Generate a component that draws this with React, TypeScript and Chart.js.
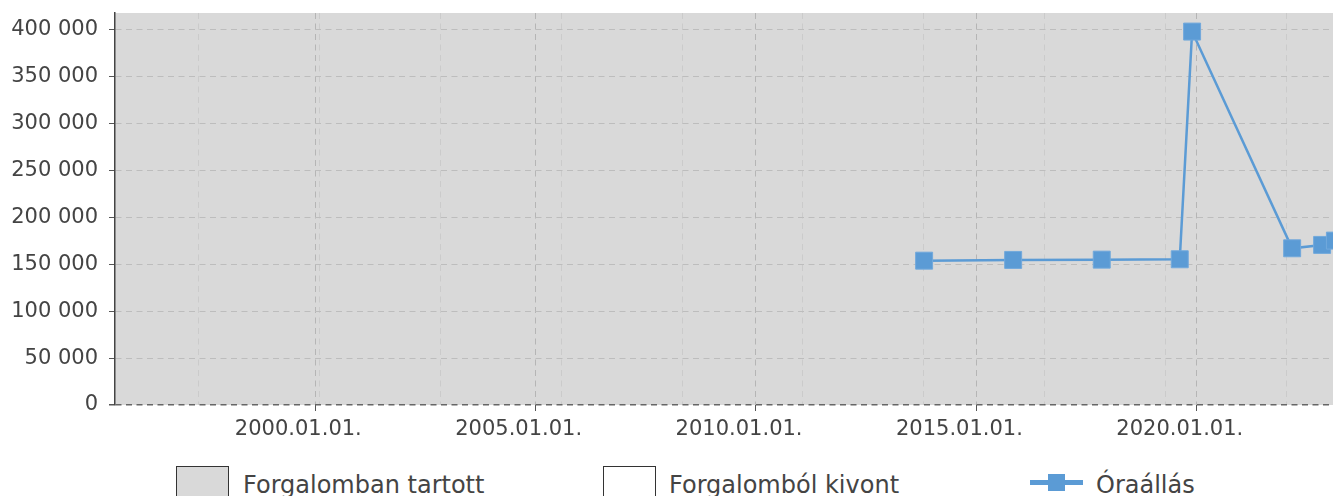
import React, { useEffect, useRef } from 'react';
import { Chart, registerables } from 'chart.js';

Chart.register(...registerables);

// Odometer readings (decimal year, km)
const odometerYears = [2013.82, 2015.84, 2017.85, 2019.62, 2019.9, 2022.17, 2022.85, 2023.14];
const odometerKm = [153900, 154700, 155000, 155400, 398200, 167100, 170700, 175300];

// Period the vehicle was kept in traffic
const inServiceStart = 1995.462;
const inServiceEnd = 2023.097;

const xMin = 1995.462;
const xMax = 2023.097;
const yMax = 418000;

const yearTicks = [2000, 2005, 2010, 2015, 2020];
const minorGridYears = [1997.352, 2000.097, 2002.852, 2005.597, 2008.333, 2011.065, 2013.801, 2016.546, 2019.301, 2022.046];
const kmTicks = [0, 50000, 100000, 150000, 200000, 250000, 300000, 350000, 400000];

const legendLabels = ['Forgalomban tartott', 'Forgalomból kivont', 'Óraállás'];

const FONT = '"DejaVu Sans", sans-serif';
const TEXT = '#444';
const BLUE = '#5b9bd5';
const GRAY_BG = '#d9d9d9';

const fmtThousands = (v: number) => String(Math.round(v)).replace(/\B(?=(\d{3})+(?!\d))/g, ' ');
const isMajor = (v: number) => yearTicks.includes(v);
const NBSP5 = '\u00a0\u00a0\u00a0\u00a0\u00a0';

export default function App() {
  const canvasRef = useRef<HTMLCanvasElement | null>(null);

  useEffect(() => {
    const canvas = canvasRef.current;
    if (!canvas) return;
    const chart = new Chart(canvas, {
      type: 'line',
      data: {
        datasets: [
          {
            label: legendLabels[0],
            data: [
              { x: inServiceStart, y: yMax },
              { x: inServiceEnd, y: yMax },
            ],
            backgroundColor: GRAY_BG,
            borderColor: GRAY_BG,
            borderWidth: 0,
            pointRadius: 0,
            fill: 'origin',
          },
          {
            label: legendLabels[1],
            data: [],
            backgroundColor: '#ffffff',
            borderColor: '#333',
            borderWidth: 0,
            pointRadius: 0,
            fill: 'origin',
          },
          {
            label: legendLabels[2],
            data: odometerYears.map((x, i) => ({ x, y: odometerKm[i] })),
            borderColor: BLUE,
            backgroundColor: BLUE,
            borderWidth: 2.5,
            pointStyle: 'rect',
            pointRadius: 12,
            pointBorderWidth: 1,
            pointBorderColor: '#72a9dc',
            fill: false,
            tension: 0,
          },
        ],
      },
      options: {
        animation: false,
        responsive: false,
        maintainAspectRatio: false,
        layout: { autoPadding: false, padding: { top: 13, right: 0, left: 0, bottom: 0 } },
        plugins: {
          legend: { display: false },
          tooltip: { enabled: false },
          filler: { drawTime: 'beforeDraw' },
        },
        scales: {
          x: {
            type: 'linear',
            min: xMin,
            max: xMax,
            afterBuildTicks: (axis: any) => {
              axis.ticks = [...yearTicks, ...minorGridYears]
                .sort((a, b) => a - b)
                .map((v) => ({ value: v }));
            },
            afterFit: (axis: any) => {
              axis.height = 40;
              axis.paddingLeft = 0;
              axis.paddingRight = 0;
            },
            ticks: {
              autoSkip: false,
              maxRotation: 0,
              padding: 6,
              color: TEXT,
              font: { family: FONT, size: 21 },
              callback: (v: any) => (isMajor(Number(v)) ? `${v}.01.01.${NBSP5}` : ''),
            },
            grid: {
              color: (c: any) => (isMajor(c.tick?.value) ? '#b5b5b5' : '#cbcbcb'),
              tickColor: (c: any) => (isMajor(c.tick?.value) ? '#555' : 'rgba(0,0,0,0)'),
              tickLength: 6,
              lineWidth: 1,
            },
            border: { display: false, dash: [6, 4.5] },
          },
          y: {
            min: 0,
            max: yMax,
            afterBuildTicks: (axis: any) => {
              axis.ticks = kmTicks.map((v) => ({ value: v }));
            },
            afterFit: (axis: any) => {
              axis.width = 115;
              axis.paddingTop = 0;
              axis.paddingBottom = 0;
            },
            ticks: {
              autoSkip: false,
              padding: 11,
              color: TEXT,
              font: { family: FONT, size: 21 },
              callback: (v: any) => fmtThousands(Number(v)),
            },
            grid: {
              color: (c: any) => (c.tick?.value === 0 ? '#666' : '#bdbdbd'),
              lineWidth: (c: any) => (c.tick?.value === 0 ? 1.5 : 1),
              tickColor: '#555',
              tickLength: 6,
            },
            border: { display: true, color: '#444', width: 1.5, dash: [6, 4.5] },
          },
        },
      },
    } as any);
    return () => chart.destroy();
  }, []);

  const legendText: React.CSSProperties = {
    position: 'absolute',
    top: 470,
    fontFamily: FONT,
    fontSize: 24,
    lineHeight: '30px',
    color: TEXT,
    whiteSpace: 'nowrap',
  };

  return (
    <div style={{ position: 'absolute', left: 0, top: 0, width: 1333, height: 496, overflow: 'hidden', background: '#fff' }}>
      <canvas ref={canvasRef} width={1333} height={445} style={{ display: 'block', width: 1333, height: 445 }} />
      <div style={{ position: 'absolute', left: 176, top: 466, width: 51, height: 40, background: GRAY_BG, border: '1px solid #333' }} />
      <div style={{ ...legendText, left: 243 }}>{legendLabels[0]}</div>
      <div style={{ position: 'absolute', left: 603, top: 466, width: 51, height: 40, background: '#fff', border: '1px solid #333' }} />
      <div style={{ ...legendText, left: 669 }}>{legendLabels[1]}</div>
      <div style={{ position: 'absolute', left: 1030, top: 480, width: 53, height: 4.5, background: BLUE }} />
      <div style={{ position: 'absolute', left: 1048, top: 473.5, width: 17, height: 17, background: BLUE }} />
      <div style={{ ...legendText, left: 1096 }}>{legendLabels[2]}</div>
    </div>
  );
}
